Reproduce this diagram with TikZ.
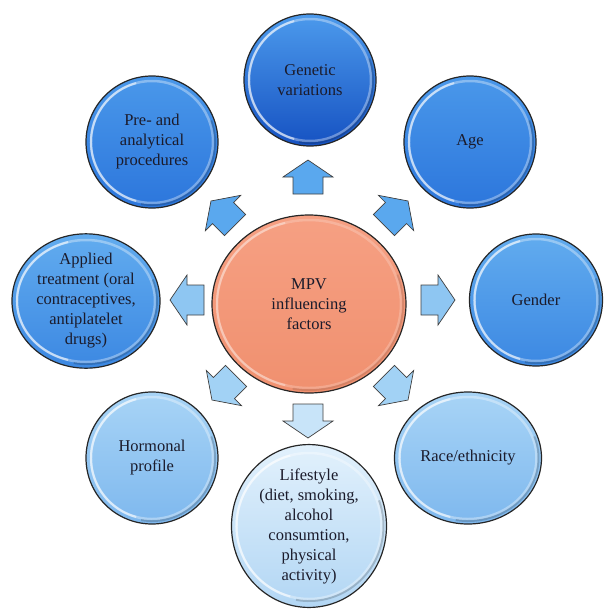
\documentclass[tikz,border=0pt]{standalone}
\usepackage{fontspec}
\setmainfont{Liberation Serif}
\usetikzlibrary{shapes.geometric}
\definecolor{txt}{HTML}{1B1B2B}
\definecolor{gTop}{HTML}{4C9AEC}\definecolor{gBot}{HTML}{1652C2}
\definecolor{aTop}{HTML}{4A98EA}\definecolor{aBot}{HTML}{2C76DC}
\definecolor{dTop}{HTML}{62ACEF}\definecolor{dBot}{HTML}{3C88E2}
\definecolor{rTop}{HTML}{A8D4F6}\definecolor{rBot}{HTML}{7EB8EE}
\definecolor{lTop}{HTML}{E2F1FC}\definecolor{lBot}{HTML}{B2D6F4}
\definecolor{cTop}{HTML}{F6A083}\definecolor{cBot}{HTML}{F0906F}
\definecolor{arrA}{HTML}{5AA8EE}\definecolor{arrB}{HTML}{8EC6F2}
\definecolor{arrC}{HTML}{A2D2F5}\definecolor{arrD}{HTML}{C8E4F9}
\newcommand{\bevelring}[4]{%
  \draw[white, opacity=#4*0.35, line width=2.5pt] (#1.center) ellipse [x radius=#2-5, y radius=#3-5];
  \draw[white, opacity=#4*0.55, line width=2pt] ([shift={(105:{#2-5} and {#3-5})}]#1.center) arc[start angle=105, end angle=255, x radius=#2-5, y radius=#3-5];
  \draw[black, opacity=#4*0.18, line width=2pt] ([shift={(-100:{#2-3} and {#3-3})}]#1.center) arc[start angle=-100, end angle=20, x radius=#2-3, y radius=#3-3];
}
\begin{document}
\begin{tikzpicture}[x=1pt,y=1pt,
  bub/.style={ellipse, draw=black!85, line width=1.2pt, inner sep=0pt, align=center,
    text=txt, font=\fontsize{16.5}{20}\selectfont},
  arrowshape/.style={draw=black!75, line width=0.7pt, line join=miter},
  pics/barrow/.style={code={\path[arrowshape, fill=#1] (-17,-15) -- (0,-15) -- (0,-25) -- (17,0) -- (0,25) -- (0,15) -- (-17,15) -- cycle;}}]
\useasboundingbox (0,0) rectangle (610,-614);
\fill[white] (0,0) rectangle (610,-614);

% outer factors
\node[bub, minimum width=132, minimum height=132, top color=gTop, bottom color=gBot] (gen) at (310,-80) {Genetic\\variations};
\node[bub, minimum width=132, minimum height=132, top color=aTop, bottom color=aBot] (age) at (470,-142) {Age};
\node[bub, minimum width=132, minimum height=132, top color=aTop, bottom color=aBot] (pre) at (152,-142) {Pre- and\\analytical\\procedures};
\node[bub, minimum width=133, minimum height=132, top color=dTop, bottom color=dBot] (gender) at (536,-300) {Gender};
\node[bub, minimum width=148, minimum height=132, top color=dTop, bottom color=dBot] (app) at (86,-301) {Applied\\treatment (oral\\contraceptives,\\antiplatelet\\drugs)};
\node[bub, minimum width=132, minimum height=132, top color=rTop, bottom color=rBot] (hor) at (152,-458) {Hormonal\\profile};
\node[bub, minimum width=147, minimum height=132, top color=rTop, bottom color=rBot] (race) at (468,-458) {Race/ethnicity};
\node[bub, minimum width=155, minimum height=156, top color=lTop, bottom color=lBot] (life) at (309,-526) {Lifestyle\\(diet, smoking,\\alcohol\\consumtion,\\physical\\activity)};
% centre
\node[bub, minimum width=194, minimum height=178, top color=cTop, bottom color=cBot] (mpv) at (309,-304) {MPV\\influencing\\factors};

\bevelring{gen}{66}{66}{1}
\bevelring{age}{66}{66}{1}
\bevelring{pre}{66}{66}{1}
\bevelring{gender}{66.5}{66}{1}
\bevelring{app}{74}{66}{1}
\bevelring{hor}{66}{66}{1}
\bevelring{race}{73.5}{66}{1}
\bevelring{life}{77.5}{78}{1}
\bevelring{mpv}{97}{89}{0.6}

% block arrows
\pic[rotate=90] at (308,-177) {barrow=arrA};
\pic[rotate=45] at (396,-213) {barrow=arrA};
\pic[rotate=135] at (223,-213) {barrow=arrA};
\pic[rotate=0] at (438,-300) {barrow=arrB};
\pic[rotate=180] at (187,-300) {barrow=arrB};
\pic[rotate=-45] at (396,-388) {barrow=arrC};
\pic[rotate=-135] at (224,-388) {barrow=arrC};
\pic[rotate=-90] at (308,-421) {barrow=arrD};
\end{tikzpicture}
\end{document}
